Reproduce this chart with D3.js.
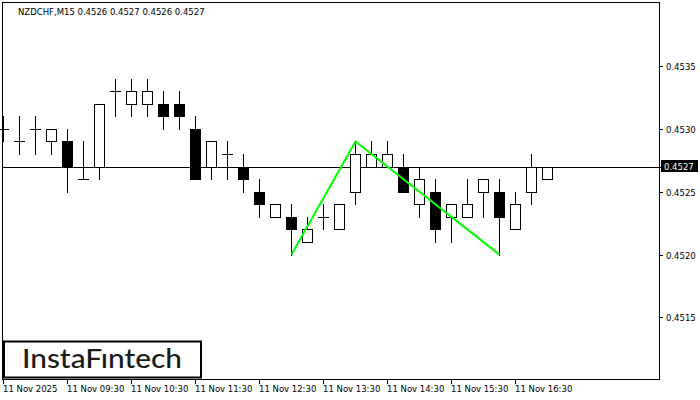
<!DOCTYPE html>
<html><head><meta charset="utf-8">
<script src="https://cdn.jsdelivr.net/npm/d3@7"></script>
<style>html,body{margin:0;padding:0;background:#fff;}svg{display:block;}</style>
</head><body>
<svg id="c" width="700" height="400"></svg>
<script>
const times = ["08:30","08:45","09:00","09:15","09:30","09:45","10:00","10:15","10:30","10:45","11:00","11:15","11:30","11:45","12:00","12:15","12:30","12:45","13:00","13:15","13:30","13:45","14:00","14:15","14:30","14:45","15:00","15:15","15:30","15:45","16:00","16:15","16:30","16:45","17:00"];
const opens  = [0.4530,0.4529,0.4530,0.4529,0.4529,0.4526,0.4527,0.4533,0.4532,0.4532,0.4532,0.4532,0.4530,0.4527,0.4528,0.4527,0.4525,0.4523,0.4523,0.4521,0.4523,0.4522,0.4525,0.4527,0.4527,0.4527,0.4524,0.4525,0.4523,0.4523,0.4525,0.4525,0.4522,0.4525,0.4526];
const highs  = [0.4531,0.4531,0.4531,0.4530,0.4530,0.4529,0.4532,0.4534,0.4534,0.4534,0.4533,0.4533,0.4531,0.4529,0.4529,0.4528,0.4526,0.4524,0.4524,0.4523,0.4524,0.4524,0.4529,0.4529,0.4529,0.4528,0.4527,0.4526,0.4524,0.4526,0.4526,0.4526,0.4525,0.4528,0.4527];
const lows   = [0.4529,0.4528,0.4528,0.4528,0.4525,0.4526,0.4526,0.4531,0.4531,0.4531,0.4530,0.4530,0.4526,0.4526,0.4526,0.4525,0.4523,0.4523,0.4520,0.4521,0.4522,0.4522,0.4524,0.4527,0.4527,0.4525,0.4523,0.4521,0.4521,0.4523,0.4523,0.4520,0.4522,0.4524,0.4526];
const closes = [0.4530,0.4529,0.4530,0.4530,0.4527,0.4526,0.4532,0.4533,0.4533,0.4533,0.4531,0.4531,0.4526,0.4529,0.4528,0.4526,0.4524,0.4524,0.4522,0.4522,0.4523,0.4524,0.4528,0.4528,0.4528,0.4525,0.4526,0.4522,0.4524,0.4524,0.4526,0.4523,0.4524,0.4527,0.4527];
const priceTicks = [0.4515,0.4520,0.4525,0.4530,0.4535];
const timeTickIdx = [0,4,8,12,16,20,24,28,32];
const timeTickLabels = ["11 Nov 2025","11 Nov 09:30","11 Nov 10:30","11 Nov 11:30","11 Nov 12:30","11 Nov 13:30","11 Nov 14:30","11 Nov 15:30","11 Nov 16:30"];
const patternIdx = [18,22,31];
const patternPrice = [0.4520,0.4529,0.4520];
const currentPrice = 0.4527;
const header = "NZDCHF,M15  0.4526 0.4527 0.4526 0.4527";

const svg = d3.select("#c");
const L = 2, R = 659, T = 2, B = 379;
const parse = d3.timeParse("%Y-%m-%d %H:%M");
const dates = times.map(t => parse("2025-11-11 " + t));
const t0 = dates[0];
const minute = 60000;
const x = d3.scaleTime()
  .domain([new Date(+t0 - 15*minute/16), new Date(+t0 + (R - 3) * 15 * minute / 16)])
  .range([L, R]);
const y = d3.scaleLinear().domain([0.45101, 0.45401]).range([B, T]);

const font = "'DejaVu Sans', sans-serif";
const fs = 8.5;

// frame
svg.append("rect").attr("x", L+0.5).attr("y", T+0.5).attr("width", R-L).attr("height", B-T)
  .attr("fill", "none").attr("stroke", "#000").attr("stroke-width", 1);

// current price line
svg.append("line").attr("x1", L).attr("x2", R+3)
  .attr("y1", Math.round(y(currentPrice))+0.5).attr("y2", Math.round(y(currentPrice))+0.5)
  .attr("stroke", "#000").attr("stroke-width", 1);

// candles
const g = svg.append("g").attr("shape-rendering", "crispEdges");
dates.forEach((d, i) => {
  const cx = Math.round(x(d));
  const o = opens[i], c = closes[i], h = highs[i], l = lows[i];
  const yh = Math.round(y(h)), yl = Math.round(y(l));
  const yt = Math.round(y(Math.max(o, c))), yb = Math.round(y(Math.min(o, c)));
  g.append("line").attr("x1", cx+0.5).attr("x2", cx+0.5).attr("y1", yh).attr("y2", yl+1)
    .attr("stroke", "#000").attr("stroke-width", 1);
  if (yt === yb) {
    g.append("line").attr("x1", cx-5).attr("x2", cx+6).attr("y1", yt+0.5).attr("y2", yt+0.5)
      .attr("stroke", "#000").attr("stroke-width", 1);
  } else {
    g.append("rect").attr("x", cx-4.5).attr("y", yt+0.5).attr("width", 10).attr("height", yb-yt)
      .attr("fill", c >= o ? "#fff" : "#000").attr("stroke", "#000").attr("stroke-width", 1);
  }
});

// pattern line
const line = d3.line().x(p => x(dates[p[0]]) + 0.5).y(p => y(p[1]));
svg.append("path").datum(patternIdx.map((k, j) => [k, patternPrice[j]]))
  .attr("d", line).attr("fill", "none").attr("stroke", "#00ff00").attr("stroke-width", 2);

// right axis
const ya = svg.append("g").attr("shape-rendering", "crispEdges");
priceTicks.forEach(p => {
  const yy = Math.round(y(p)) + 0.5;
  ya.append("line").attr("x1", R).attr("x2", R+4).attr("y1", yy).attr("y2", yy).attr("stroke", "#000");
  svg.append("text").attr("x", 666).attr("y", yy + 3.5).text(d3.format(".4f")(p))
    .attr("font-family", font).attr("font-size", fs).attr("fill", "#000");
});
// current price label
const cy = Math.round(y(currentPrice));
svg.append("rect").attr("x", 661).attr("y", cy - 7).attr("width", 37).attr("height", 12).attr("fill", "#000");
svg.append("text").attr("x", 664).attr("y", cy + 3).text(d3.format(".4f")(currentPrice))
  .attr("font-family", font).attr("font-size", fs).attr("fill", "#fff");

// bottom axis
timeTickIdx.forEach((k, j) => {
  const xx = Math.round(x(dates[k])) + 0.5;
  ya.append("line").attr("x1", xx).attr("x2", xx).attr("y1", B).attr("y2", B+5).attr("stroke", "#000");
  svg.append("text").attr("x", xx - 0.5).attr("y", 392).text(timeTickLabels[j])
    .attr("font-family", font).attr("font-size", fs).attr("fill", "#000");
});

// header
svg.append("text").attr("x", 18).attr("y", 15).text(header)
  .attr("font-family", font).attr("font-size", fs).attr("fill", "#000");

// logo
svg.append("rect").attr("x", 4).attr("y", 341.5).attr("width", 197).attr("height", 36)
  .attr("fill", "#fff").attr("stroke", "#000").attr("stroke-width", 2);
svg.append("text").attr("x", 22).attr("y", 368).text("InstaFıntech")
  .attr("font-family", "Lato, 'Open Sans', sans-serif").attr("font-weight", 500).attr("font-size", 26)
  .attr("textLength", 160).attr("lengthAdjust", "spacingAndGlyphs").attr("fill", "#1a1a1a");
</script>
</body></html>
